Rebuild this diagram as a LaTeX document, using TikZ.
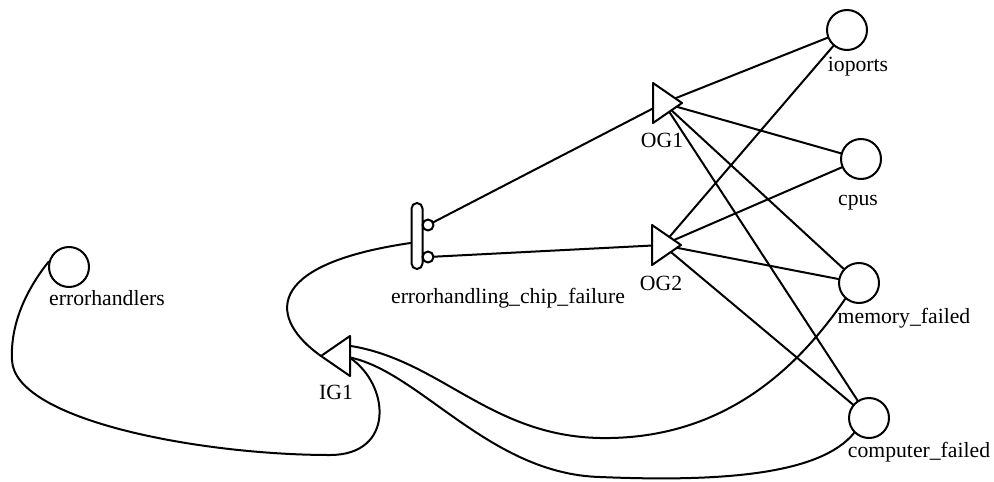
\documentclass[tikz,border=0pt]{standalone}
\usepackage{fontspec}
\setmainfont{Liberation Serif}
\usetikzlibrary{shapes.geometric}

\begin{document}
\begin{tikzpicture}[x=0.5pt,y=-0.5pt,line width=1pt,line cap=round,line join=round,
  event/.style={circle,draw,minimum size=20pt,inner sep=0pt},
  gate/.style={isosceles triangle,isosceles triangle stretches,draw,
    minimum width=20pt,minimum height=14.5pt,inner sep=0pt,outer sep=0pt},
  bubble/.style={circle,draw,minimum size=5.5pt,inner sep=0pt,outer sep=0pt},
  lbl/.style={inner sep=0pt,font=\fontsize{10.85}{13}\selectfont}]
\useasboundingbox (0,0) rectangle (994,481);

% basic events
\node[event] (ioports) at (847,30) {};
\node[event] (cpus) at (861,159) {};
\node[event] (memfail) at (859,283) {};
\node[event] (compfail) at (869,418) {};
\node[event] (errh) at (69,267) {};
\node[lbl] (ioports-l) at (858,67) {ioports};
\node[lbl] (cpus-l) at (858,203) {cpus};
\node[lbl] (memfail-l) at (904,318) {memory\_failed};
\node[lbl] (compfail-l) at (919,452) {computer\_failed};
\node[lbl] (errh-l) at (107,298) {errorhandlers};

% gates
\node[gate,anchor=apex] (og1) at (682,103) {};
\node[gate,anchor=apex] (og2) at (681,245) {};
\node[gate,shape border rotate=180,anchor=apex] (ig1) at (321,356) {};
\node[lbl] (og1-l) at (662,140) {OG1};
\node[lbl] (og2-l) at (661,283) {OG2};
\node[lbl] (ig1-l) at (336,392) {IG1};

% chip failure
\node[draw,rounded corners=2.75pt,minimum width=5.5pt,minimum height=33pt,inner sep=0pt] (chip) at (417,236) {};
\node[bubble] (chip-a) at (428,225) {};
\node[bubble] (chip-b) at (428,257) {};
\node[lbl] (chip-l) at (508,298) {errorhandling\_chip\_failure};

% connectors
\draw (chip-a) -- (og1);
\draw (chip-b) -- (og2);
\foreach \t in {ioports,cpus,memfail,compfail}{
  \draw (og1) -- (\t);
  \draw (og2) -- (\t);
}
\draw ([yshift=-3.5pt]chip.west) .. controls (260,265) and (270,320) .. (ig1.apex);
\draw (errh.165) .. controls (30,285) and (10,320) .. (12,360)
  .. controls (14,420) and (200,455) .. (330,455)
  .. controls (395,455) and (390,385) .. (ig1.-10);
\draw (memfail.229) .. controls (795,372) and (720,440) .. (600,438)
  .. controls (490,436) and (440,360) .. (ig1.44);
\draw (compfail.225) .. controls (820,475) and (720,482) .. (600,477)
  .. controls (490,474) and (420,372) .. (ig1.-8);
\end{tikzpicture}
\end{document}
